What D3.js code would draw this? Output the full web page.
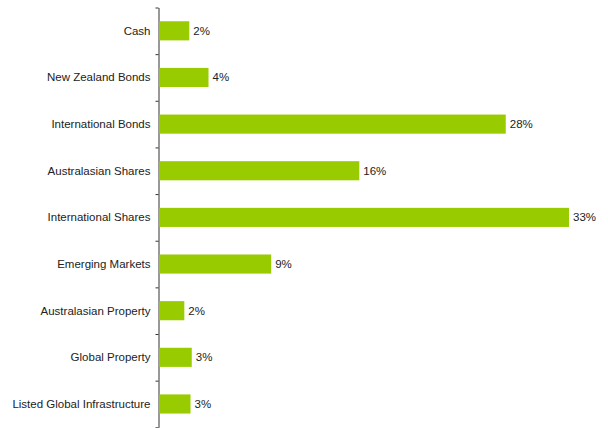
<!DOCTYPE html>
<html>
<head>
<meta charset="utf-8">
<script src="https://cdn.jsdelivr.net/npm/d3@7"></script>
<style>
  html, body { margin: 0; padding: 0; background: #fff; }
  svg { display: block; }
  text { font-family: "Liberation Sans", Arial, Helvetica, sans-serif; }
</style>
</head>
<body>
<svg id="chart" width="608" height="428"></svg>
<script>
// Asset allocation by sector (percent of portfolio)
const categories = [
  "Cash",
  "New Zealand Bonds",
  "International Bonds",
  "Australasian Shares",
  "International Shares",
  "Emerging Markets",
  "Australasian Property",
  "Global Property",
  "Listed Global Infrastructure"
];
const allocation = [2.4, 3.95, 27.9, 16.1, 33.0, 9.0, 2.0, 2.6, 2.5];

const svg = d3.select("#chart");
const axisX = 158.5;
const plotTop = 7.5, plotBottom = 427.3;

const x = d3.scaleLinear().domain([0, 35]).range([axisX + 1, axisX + 1 + 35 * 12.41]);
const y = d3.scaleBand()
  .domain(categories)
  .range([plotTop, plotBottom])
  .paddingInner(0.59)
  .paddingOuter(0.295);

// Boundary ticks between categories
const yEdge = d3.scaleLinear().domain([0, categories.length]).range([plotTop, plotBottom]);
const axis = d3.axisLeft(yEdge)
  .tickValues(d3.range(0, categories.length + 1))
  .tickSize(3)
  .tickSizeOuter(0)
  .tickFormat("");

svg.append("g")
  .attr("transform", `translate(${axisX},0)`)
  .call(axis)
  .call(g => g.select(".domain").attr("stroke", "#333"))
  .call(g => g.selectAll(".tick line").attr("stroke", "#333"));

// Bars
svg.append("g")
  .selectAll("rect")
  .data(allocation)
  .join("rect")
  .attr("x", axisX + 0.5)
  .attr("y", (d, i) => y(categories[i]))
  .attr("width", d => x(d) - axisX - 0.5)
  .attr("height", y.bandwidth())
  .attr("fill", "#99cc00");

// Category labels
svg.append("g")
  .selectAll("text")
  .data(categories)
  .join("text")
  .attr("x", axisX - 8)
  .attr("y", d => y(d) + y.bandwidth() / 2)
  .attr("dy", "0.35em")
  .attr("text-anchor", "end")
  .attr("font-size", "11.5px")
  .attr("fill", "#222")
  .text(d => d);

// Value labels
svg.append("g")
  .selectAll("text")
  .data(allocation)
  .join("text")
  .attr("x", d => x(d) + 4)
  .attr("y", (d, i) => y(categories[i]) + y.bandwidth() / 2)
  .attr("dy", "0.35em")
  .attr("font-size", "11.5px")
  .attr("fill", "#222")
  .text(d => Math.round(d) + "%");
</script>
</body>
</html>
